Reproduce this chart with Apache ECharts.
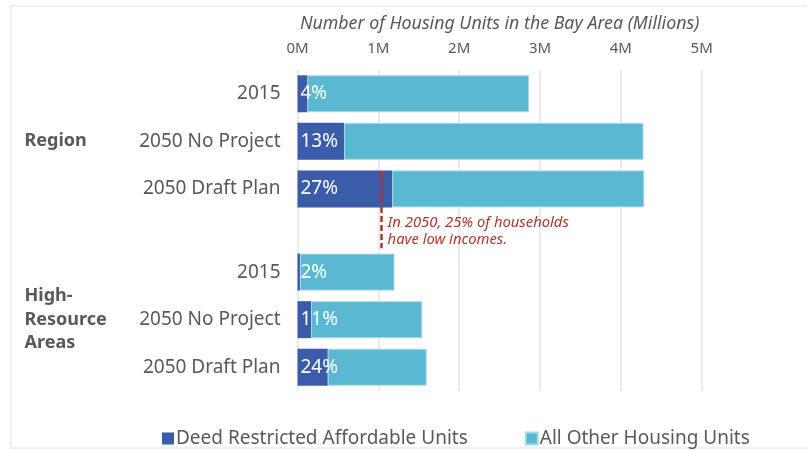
<!DOCTYPE html>
<html>
<head>
<meta charset="utf-8">
<script src="https://cdn.jsdelivr.net/npm/echarts@6/dist/echarts.min.js"></script>
<style>
html,body{margin:0;padding:0;background:#fff;}
#frame{position:absolute;left:10px;top:5px;width:810px;height:444px;border:2px solid #efefef;box-sizing:border-box;}
#main{position:absolute;left:0;top:0;width:807px;height:451px;}
</style>
</head>
<body>
<div id="frame"></div>
<div id="main"></div>
<script>
// ---- data ----
var rowLabels = ['2015', '2050 No Project', '2050 Draft Plan', '2015', '2050 No Project', '2050 Draft Plan'];
var rowSlots = [4, 12, 20, 34, 42, 50];          // slot on the fine category axis
var groupLabels = ['Region', 'High-\nResource\nAreas'];
var groupSlots = [12, 42];
var affordable = [0.12, 0.575, 1.17, 0.03, 0.167, 0.373];   // millions
var otherUnits = [2.745, 3.705, 3.12, 1.17, 1.377, 1.225];  // millions
var pctLabels = ['4%', '13%', '27%', '2%', '11%', '24%'];
var xTicks = ['0M', '1M', '2M', '3M', '4M', '5M'];
var lowIncomeLine = 1.04;        // 25% of households (millions)
var lineSlots = [17, 30];
var noteSlot = 23;
var noteText = 'In 2050, 25% of households\nhave low incomes.';
var seriesNames = ['Deed Restricted Affordable Units', 'All Other Housing Units'];
var slotCount = 55;

var FONT = 'Noto Sans';
var GREY = '#595959';
var slots = [];
for (var i = 0; i < slotCount; i++) slots.push(String(i));
function labelAt(list, where) {
  return function (v) { var k = where.indexOf(Number(v)); return k >= 0 ? list[k] : ''; };
}

var chart = echarts.init(document.getElementById('main'));
chart.setOption({
  animation: false,
  textStyle: { fontFamily: FONT },
  grid: { left: 297.5, right: 105.3, top: 70, bottom: 60 },
  legend: {
    bottom: -2, left: 157,
    itemWidth: 12, itemHeight: 12, itemGap: 57,
    icon: 'rect',
    textStyle: { color: GREY, fontSize: 19, fontFamily: FONT, padding: [0, 0, 0, -3] },
    data: seriesNames
  },
  xAxis: {
    type: 'value', position: 'top', min: 0, max: 5, interval: 1,
    name: 'Number of Housing Units in the Bay Area (Millions)',
    nameLocation: 'middle', nameGap: 37,
    nameTextStyle: { color: GREY, fontSize: 17.8, fontStyle: 'italic', fontFamily: FONT },
    axisLine: { show: false }, axisTick: { show: false },
    axisLabel: { color: GREY, fontSize: 15, margin: 14, formatter: function (v) { return xTicks[Math.round(v)]; } },
    splitLine: { lineStyle: { color: '#e3e3e3', width: 1.5 } }
  },
  yAxis: [{
    type: 'category', inverse: true, boundaryGap: false, data: slots,
    axisLine: { show: false }, axisTick: { show: false }, splitLine: { show: false },
    axisLabel: { interval: 0, color: GREY, fontSize: 19, margin: 17, formatter: labelAt(rowLabels, rowSlots) }
  }, {
    type: 'category', inverse: true, boundaryGap: false, data: slots, position: 'left',
    axisLine: { show: false }, axisTick: { show: false }, splitLine: { show: false },
    axisLabel: { interval: 0, color: GREY, fontSize: 18, fontWeight: 'bold', lineHeight: 23.5,
      align: 'left', margin: 273, formatter: labelAt(groupLabels, groupSlots) }
  }],
  series: [{
    name: seriesNames[0], type: 'bar', stack: 'u', barWidth: 37, z: 3,
    itemStyle: { color: '#3a5ca9' },
    data: affordable.map(function (v, k) { return [v, rowSlots[k]]; }),
    label: { show: true, position: 'insideLeft', distance: 3, color: '#fff', fontSize: 19, fontFamily: FONT,
      formatter: function (p) { return pctLabels[p.dataIndex]; } },
    markLine: {
      symbol: 'none', silent: true, label: { show: false },
      lineStyle: { color: '#a63a2a', type: [6, 3], width: 2.5 },
      data: [[{ coord: [lowIncomeLine, lineSlots[0]] }, { coord: [lowIncomeLine, lineSlots[1]] }]]
    }
  }, {
    name: seriesNames[1], type: 'bar', stack: 'u', barWidth: 37, z: 2,
    itemStyle: { color: '#5bb8d2', borderColor: '#a9d9e8', borderWidth: 1 },
    data: otherUnits.map(function (v, k) { return [v, rowSlots[k]]; })
  }]
});
var p = chart.convertToPixel({ gridIndex: 0 }, [lowIncomeLine, noteSlot]);
chart.setOption({
  graphic: [{
    type: 'text', left: p[0] + 6, top: p[1] + 7,
    style: { text: noteText, fill: '#a63a2a', fontSize: 14.8, fontStyle: 'italic', fontFamily: FONT, lineHeight: 17.5 }
  }]
});
</script>
</body>
</html>
